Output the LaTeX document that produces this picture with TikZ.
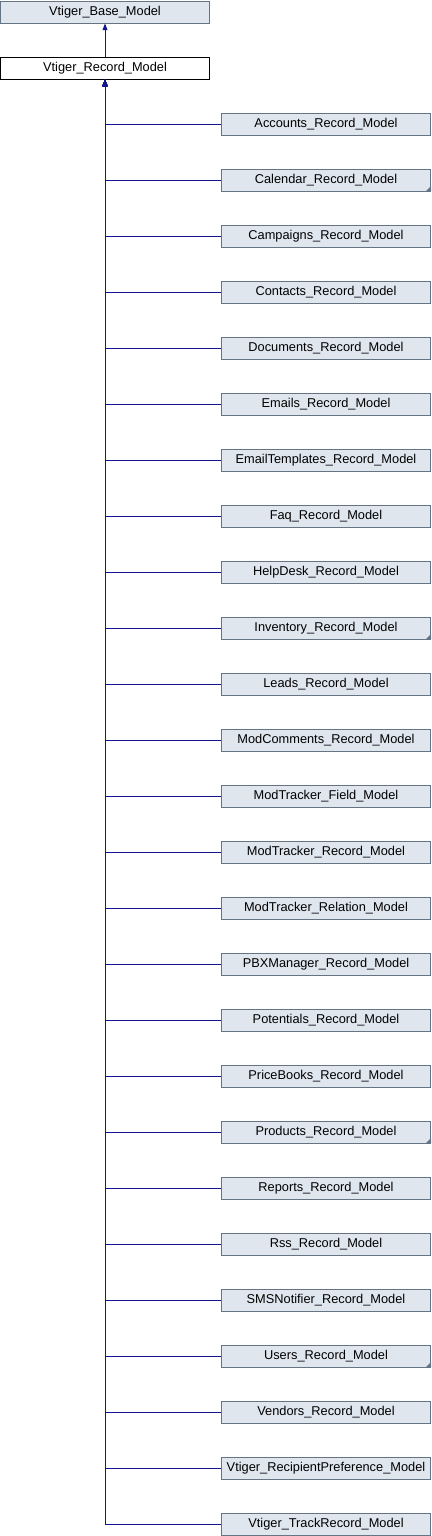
\documentclass[tikz,border=0pt]{standalone}
\usepackage{fontspec}
\setmainfont{Liberation Sans}
\usetikzlibrary{arrows.meta}

\definecolor{boxfill}{RGB}{224,230,238}
\definecolor{boxline}{RGB}{100,116,132}
\definecolor{linkblue}{RGB}{20,20,140}

\begin{document}
\begin{tikzpicture}[x=0.75pt, y=-0.75pt, >={Triangle[length=5pt, width=3.6pt]},
    classbox/.style={draw=boxline, fill=boxfill, line width=0.6pt, inner sep=0pt,
        minimum width=157pt, minimum height=16.5pt, font=\fontsize{9.6}{10}\selectfont},
    recbox/.style={classbox, draw=black, fill=white},
    link/.style={draw=linkblue, line width=0.7pt},
    more/.style={fill=boxline}]
    \useasboundingbox (0,0) rectangle (432,1536);

    % Base and record model
    \node [classbox] (base) at (105,12) {Vtiger\_Base\_Model};
    \node [recbox] (rec) at (105,68) {Vtiger\_Record\_Model};
    \draw [link, ->] (rec.north) -- (base.south);

    % Derived classes
    \foreach \n [count=\i from 0] in {Accounts\_Record\_Model, Calendar\_Record\_Model,
        Campaigns\_Record\_Model, Contacts\_Record\_Model, Documents\_Record\_Model,
        Emails\_Record\_Model, EmailTemplates\_Record\_Model, Faq\_Record\_Model,
        HelpDesk\_Record\_Model, Inventory\_Record\_Model, Leads\_Record\_Model,
        ModComments\_Record\_Model, ModTracker\_Field\_Model, ModTracker\_Record\_Model,
        ModTracker\_Relation\_Model, PBXManager\_Record\_Model, Potentials\_Record\_Model,
        PriceBooks\_Record\_Model, Products\_Record\_Model, Reports\_Record\_Model,
        Rss\_Record\_Model, SMSNotifier\_Record\_Model, Users\_Record\_Model,
        Vendors\_Record\_Model, Vtiger\_RecipientPreference\_Model, Vtiger\_TrackRecord\_Model}
    {
        \node [classbox] (c\i) at (326,124+56*\i) {\n};
        \draw [link, ->] (c\i.west) -| (rec.south);
    }

    % Classes with further subclasses
    \foreach \i in {1, 9, 18, 22}
        \fill [more] ([xshift=-4pt]c\i.south east) -- (c\i.south east) -- ([yshift=4pt]c\i.south east) -- cycle;
\end{tikzpicture}
\end{document}
